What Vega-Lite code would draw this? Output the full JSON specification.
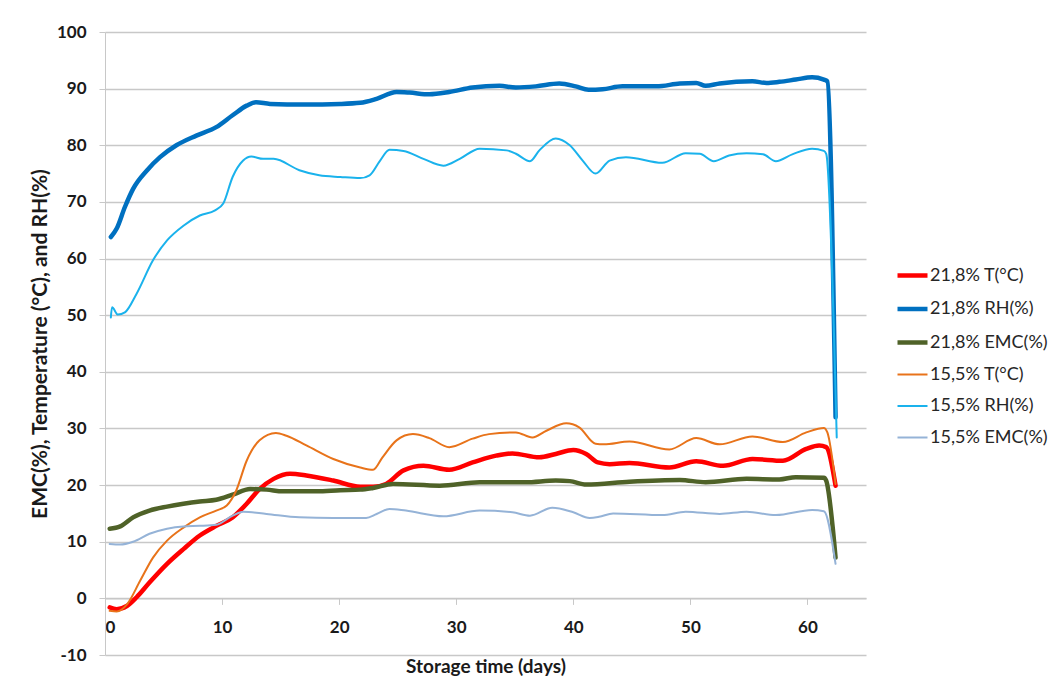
{
  "$schema": "https://vega.github.io/schema/vega-lite/v6.json",
  "width": 761,
  "height": 623,
  "autosize": "none",
  "padding": {"left": 105, "top": 32, "right": 186, "bottom": 38},
  "background": "white",
  "config": {
    "view": {"stroke": null},
    "font": "Lato",
    "axis": {"labelFont": "Lato", "titleFont": "Lato"}
  },
  "datasets": {
    "pts": [
      {"s":"21,8% T(°C)","d":0.4,"v":-1.6},{"s":"21,8% T(°C)","d":1.0,"v":-1.9},{"s":"21,8% T(°C)","d":1.9,"v":-1.3},{"s":"21,8% T(°C)","d":2.7,"v":0.2},{"s":"21,8% T(°C)","d":3.8,"v":2.8},{"s":"21,8% T(°C)","d":5.3,"v":6.1},{"s":"21,8% T(°C)","d":6.7,"v":8.7},{"s":"21,8% T(°C)","d":8.1,"v":11.1},{"s":"21,8% T(°C)","d":9.5,"v":12.8},{"s":"21,8% T(°C)","d":10.9,"v":14.3},{"s":"21,8% T(°C)","d":12.1,"v":16.7},{"s":"21,8% T(°C)","d":13.2,"v":19.3},{"s":"21,8% T(°C)","d":14.4,"v":21.1},{"s":"21,8% T(°C)","d":15.8,"v":22.0},{"s":"21,8% T(°C)","d":17.2,"v":21.7},{"s":"21,8% T(°C)","d":19.5,"v":20.8},{"s":"21,8% T(°C)","d":21.8,"v":19.7},{"s":"21,8% T(°C)","d":22.9,"v":19.7},{"s":"21,8% T(°C)","d":24.0,"v":20.2},{"s":"21,8% T(°C)","d":25.5,"v":22.6},{"s":"21,8% T(°C)","d":27.2,"v":23.4},{"s":"21,8% T(°C)","d":29.4,"v":22.7},{"s":"21,8% T(°C)","d":31.4,"v":24.0},{"s":"21,8% T(°C)","d":33.4,"v":25.2},{"s":"21,8% T(°C)","d":34.8,"v":25.6},{"s":"21,8% T(°C)","d":37.1,"v":24.9},{"s":"21,8% T(°C)","d":38.5,"v":25.5},{"s":"21,8% T(°C)","d":40.0,"v":26.2},{"s":"21,8% T(°C)","d":41.1,"v":25.5},{"s":"21,8% T(°C)","d":42.1,"v":24.0},{"s":"21,8% T(°C)","d":43.1,"v":23.7},{"s":"21,8% T(°C)","d":44.8,"v":23.9},{"s":"21,8% T(°C)","d":48.2,"v":23.1},{"s":"21,8% T(°C)","d":50.5,"v":24.2},{"s":"21,8% T(°C)","d":52.8,"v":23.4},{"s":"21,8% T(°C)","d":55.3,"v":24.6},{"s":"21,8% T(°C)","d":57.9,"v":24.3},{"s":"21,8% T(°C)","d":59.9,"v":26.4},{"s":"21,8% T(°C)","d":61.0,"v":27.0},{"s":"21,8% T(°C)","d":61.6,"v":26.7},{"s":"21,8% T(°C)","d":62.4,"v":19.9},

      {"s":"21,8% RH(%)","d":0.5,"v":63.8},{"s":"21,8% RH(%)","d":1.0,"v":65.3},{"s":"21,8% RH(%)","d":1.7,"v":69.1},{"s":"21,8% RH(%)","d":2.4,"v":72.3},{"s":"21,8% RH(%)","d":3.6,"v":75.6},{"s":"21,8% RH(%)","d":4.7,"v":77.9},{"s":"21,8% RH(%)","d":6.1,"v":80.0},{"s":"21,8% RH(%)","d":7.8,"v":81.7},{"s":"21,8% RH(%)","d":9.5,"v":83.2},{"s":"21,8% RH(%)","d":10.9,"v":85.3},{"s":"21,8% RH(%)","d":12.1,"v":87.0},{"s":"21,8% RH(%)","d":12.9,"v":87.6},{"s":"21,8% RH(%)","d":14.1,"v":87.3},{"s":"21,8% RH(%)","d":17.0,"v":87.2},{"s":"21,8% RH(%)","d":20.1,"v":87.3},{"s":"21,8% RH(%)","d":21.8,"v":87.5},{"s":"21,8% RH(%)","d":23.2,"v":88.2},{"s":"21,8% RH(%)","d":24.9,"v":89.4},{"s":"21,8% RH(%)","d":26.0,"v":89.3},{"s":"21,8% RH(%)","d":27.7,"v":89.0},{"s":"21,8% RH(%)","d":29.4,"v":89.4},{"s":"21,8% RH(%)","d":31.4,"v":90.2},{"s":"21,8% RH(%)","d":33.7,"v":90.5},{"s":"21,8% RH(%)","d":35.1,"v":90.2},{"s":"21,8% RH(%)","d":36.8,"v":90.4},{"s":"21,8% RH(%)","d":38.8,"v":90.9},{"s":"21,8% RH(%)","d":40.2,"v":90.4},{"s":"21,8% RH(%)","d":41.3,"v":89.8},{"s":"21,8% RH(%)","d":42.5,"v":89.9},{"s":"21,8% RH(%)","d":44.2,"v":90.4},{"s":"21,8% RH(%)","d":47.1,"v":90.4},{"s":"21,8% RH(%)","d":49.1,"v":90.9},{"s":"21,8% RH(%)","d":50.5,"v":91.0},{"s":"21,8% RH(%)","d":51.3,"v":90.5},{"s":"21,8% RH(%)","d":52.5,"v":90.9},{"s":"21,8% RH(%)","d":55.3,"v":91.3},{"s":"21,8% RH(%)","d":56.5,"v":91.0},{"s":"21,8% RH(%)","d":57.6,"v":91.2},{"s":"21,8% RH(%)","d":59.0,"v":91.6},{"s":"21,8% RH(%)","d":60.4,"v":92.0},{"s":"21,8% RH(%)","d":61.4,"v":91.6},{"s":"21,8% RH(%)","d":61.7,"v":91.3},{"s":"21,8% RH(%)","d":62.4,"v":32.0},

      {"s":"21,8% EMC(%)","d":0.4,"v":12.3},{"s":"21,8% EMC(%)","d":1.3,"v":12.7},{"s":"21,8% EMC(%)","d":2.4,"v":14.3},{"s":"21,8% EMC(%)","d":3.8,"v":15.5},{"s":"21,8% EMC(%)","d":5.3,"v":16.2},{"s":"21,8% EMC(%)","d":6.7,"v":16.7},{"s":"21,8% EMC(%)","d":8.1,"v":17.1},{"s":"21,8% EMC(%)","d":9.5,"v":17.4},{"s":"21,8% EMC(%)","d":10.9,"v":18.3},{"s":"21,8% EMC(%)","d":12.4,"v":19.3},{"s":"21,8% EMC(%)","d":13.8,"v":19.2},{"s":"21,8% EMC(%)","d":15.2,"v":18.9},{"s":"21,8% EMC(%)","d":18.1,"v":18.9},{"s":"21,8% EMC(%)","d":20.1,"v":19.1},{"s":"21,8% EMC(%)","d":21.8,"v":19.2},{"s":"21,8% EMC(%)","d":22.9,"v":19.5},{"s":"21,8% EMC(%)","d":24.6,"v":20.2},{"s":"21,8% EMC(%)","d":28.6,"v":19.9},{"s":"21,8% EMC(%)","d":32.0,"v":20.5},{"s":"21,8% EMC(%)","d":35.9,"v":20.5},{"s":"21,8% EMC(%)","d":38.5,"v":20.8},{"s":"21,8% EMC(%)","d":39.7,"v":20.7},{"s":"21,8% EMC(%)","d":41.1,"v":20.1},{"s":"21,8% EMC(%)","d":44.8,"v":20.6},{"s":"21,8% EMC(%)","d":49.1,"v":20.9},{"s":"21,8% EMC(%)","d":51.3,"v":20.5},{"s":"21,8% EMC(%)","d":54.8,"v":21.1},{"s":"21,8% EMC(%)","d":57.6,"v":21.0},{"s":"21,8% EMC(%)","d":59.0,"v":21.4},{"s":"21,8% EMC(%)","d":61.4,"v":21.3},{"s":"21,8% EMC(%)","d":61.6,"v":20.8},{"s":"21,8% EMC(%)","d":62.4,"v":7.2},

      {"s":"15,5% T(°C)","d":0.4,"v":-2.2},{"s":"15,5% T(°C)","d":1.0,"v":-2.3},{"s":"15,5% T(°C)","d":1.9,"v":-1.0},{"s":"15,5% T(°C)","d":3.0,"v":3.1},{"s":"15,5% T(°C)","d":4.1,"v":7.2},{"s":"15,5% T(°C)","d":5.3,"v":10.2},{"s":"15,5% T(°C)","d":6.7,"v":12.5},{"s":"15,5% T(°C)","d":8.1,"v":14.3},{"s":"15,5% T(°C)","d":9.5,"v":15.5},{"s":"15,5% T(°C)","d":10.4,"v":16.4},{"s":"15,5% T(°C)","d":11.2,"v":19.0},{"s":"15,5% T(°C)","d":12.1,"v":24.3},{"s":"15,5% T(°C)","d":13.2,"v":27.9},{"s":"15,5% T(°C)","d":14.6,"v":29.2},{"s":"15,5% T(°C)","d":15.5,"v":28.7},{"s":"15,5% T(°C)","d":17.2,"v":27.0},{"s":"15,5% T(°C)","d":19.5,"v":24.6},{"s":"15,5% T(°C)","d":21.8,"v":23.1},{"s":"15,5% T(°C)","d":22.9,"v":22.7},{"s":"15,5% T(°C)","d":23.7,"v":24.9},{"s":"15,5% T(°C)","d":24.9,"v":27.9},{"s":"15,5% T(°C)","d":26.3,"v":29.0},{"s":"15,5% T(°C)","d":27.7,"v":28.3},{"s":"15,5% T(°C)","d":29.4,"v":26.7},{"s":"15,5% T(°C)","d":31.4,"v":28.2},{"s":"15,5% T(°C)","d":32.8,"v":29.0},{"s":"15,5% T(°C)","d":35.1,"v":29.3},{"s":"15,5% T(°C)","d":36.5,"v":28.4},{"s":"15,5% T(°C)","d":37.7,"v":29.6},{"s":"15,5% T(°C)","d":39.4,"v":30.9},{"s":"15,5% T(°C)","d":40.5,"v":30.2},{"s":"15,5% T(°C)","d":41.9,"v":27.3},{"s":"15,5% T(°C)","d":42.6,"v":27.2},{"s":"15,5% T(°C)","d":44.8,"v":27.7},{"s":"15,5% T(°C)","d":48.2,"v":26.3},{"s":"15,5% T(°C)","d":50.5,"v":28.3},{"s":"15,5% T(°C)","d":52.5,"v":27.2},{"s":"15,5% T(°C)","d":55.3,"v":28.6},{"s":"15,5% T(°C)","d":57.9,"v":27.6},{"s":"15,5% T(°C)","d":59.9,"v":29.3},{"s":"15,5% T(°C)","d":61.4,"v":30.1},{"s":"15,5% T(°C)","d":61.7,"v":29.3},{"s":"15,5% T(°C)","d":62.4,"v":20.2},

      {"s":"15,5% RH(%)","d":0.5,"v":49.6},{"s":"15,5% RH(%)","d":0.6,"v":51.4},{"s":"15,5% RH(%)","d":1.1,"v":50.1},{"s":"15,5% RH(%)","d":1.7,"v":50.5},{"s":"15,5% RH(%)","d":2.7,"v":53.8},{"s":"15,5% RH(%)","d":4.1,"v":59.7},{"s":"15,5% RH(%)","d":5.3,"v":63.2},{"s":"15,5% RH(%)","d":6.7,"v":65.8},{"s":"15,5% RH(%)","d":8.1,"v":67.6},{"s":"15,5% RH(%)","d":9.4,"v":68.5},{"s":"15,5% RH(%)","d":10.1,"v":69.7},{"s":"15,5% RH(%)","d":10.9,"v":74.4},{"s":"15,5% RH(%)","d":11.8,"v":77.3},{"s":"15,5% RH(%)","d":12.5,"v":78.0},{"s":"15,5% RH(%)","d":13.5,"v":77.6},{"s":"15,5% RH(%)","d":14.4,"v":77.6},{"s":"15,5% RH(%)","d":16.6,"v":75.6},{"s":"15,5% RH(%)","d":18.3,"v":74.7},{"s":"15,5% RH(%)","d":20.1,"v":74.4},{"s":"15,5% RH(%)","d":21.8,"v":74.2},{"s":"15,5% RH(%)","d":22.6,"v":74.7},{"s":"15,5% RH(%)","d":23.5,"v":77.3},{"s":"15,5% RH(%)","d":24.3,"v":79.2},{"s":"15,5% RH(%)","d":25.5,"v":79.0},{"s":"15,5% RH(%)","d":27.2,"v":77.6},{"s":"15,5% RH(%)","d":28.9,"v":76.4},{"s":"15,5% RH(%)","d":30.3,"v":77.6},{"s":"15,5% RH(%)","d":32.0,"v":79.4},{"s":"15,5% RH(%)","d":34.3,"v":79.1},{"s":"15,5% RH(%)","d":35.1,"v":78.5},{"s":"15,5% RH(%)","d":36.3,"v":77.2},{"s":"15,5% RH(%)","d":37.1,"v":79.1},{"s":"15,5% RH(%)","d":38.5,"v":81.2},{"s":"15,5% RH(%)","d":39.7,"v":80.0},{"s":"15,5% RH(%)","d":40.8,"v":77.3},{"s":"15,5% RH(%)","d":41.9,"v":75.0},{"s":"15,5% RH(%)","d":43.1,"v":77.3},{"s":"15,5% RH(%)","d":44.5,"v":77.9},{"s":"15,5% RH(%)","d":47.6,"v":76.9},{"s":"15,5% RH(%)","d":49.6,"v":78.6},{"s":"15,5% RH(%)","d":50.8,"v":78.5},{"s":"15,5% RH(%)","d":52.0,"v":77.2},{"s":"15,5% RH(%)","d":53.3,"v":78.2},{"s":"15,5% RH(%)","d":54.8,"v":78.6},{"s":"15,5% RH(%)","d":56.2,"v":78.4},{"s":"15,5% RH(%)","d":57.3,"v":77.2},{"s":"15,5% RH(%)","d":58.7,"v":78.4},{"s":"15,5% RH(%)","d":60.4,"v":79.4},{"s":"15,5% RH(%)","d":61.4,"v":79.0},{"s":"15,5% RH(%)","d":61.6,"v":78.5},{"s":"15,5% RH(%)","d":62.5,"v":28.4},

      {"s":"15,5% EMC(%)","d":0.4,"v":9.6},{"s":"15,5% EMC(%)","d":1.3,"v":9.5},{"s":"15,5% EMC(%)","d":2.4,"v":10.0},{"s":"15,5% EMC(%)","d":3.8,"v":11.4},{"s":"15,5% EMC(%)","d":5.3,"v":12.3},{"s":"15,5% EMC(%)","d":6.7,"v":12.7},{"s":"15,5% EMC(%)","d":8.1,"v":12.8},{"s":"15,5% EMC(%)","d":9.5,"v":13.0},{"s":"15,5% EMC(%)","d":10.9,"v":14.6},{"s":"15,5% EMC(%)","d":11.8,"v":15.3},{"s":"15,5% EMC(%)","d":13.8,"v":14.9},{"s":"15,5% EMC(%)","d":16.6,"v":14.3},{"s":"15,5% EMC(%)","d":19.5,"v":14.2},{"s":"15,5% EMC(%)","d":22.3,"v":14.2},{"s":"15,5% EMC(%)","d":23.2,"v":14.9},{"s":"15,5% EMC(%)","d":24.3,"v":15.8},{"s":"15,5% EMC(%)","d":25.7,"v":15.5},{"s":"15,5% EMC(%)","d":28.9,"v":14.5},{"s":"15,5% EMC(%)","d":32.0,"v":15.5},{"s":"15,5% EMC(%)","d":34.8,"v":15.2},{"s":"15,5% EMC(%)","d":36.3,"v":14.6},{"s":"15,5% EMC(%)","d":38.2,"v":16.0},{"s":"15,5% EMC(%)","d":40.0,"v":15.2},{"s":"15,5% EMC(%)","d":41.4,"v":14.2},{"s":"15,5% EMC(%)","d":42.2,"v":14.4},{"s":"15,5% EMC(%)","d":43.4,"v":15.0},{"s":"15,5% EMC(%)","d":47.6,"v":14.7},{"s":"15,5% EMC(%)","d":49.6,"v":15.3},{"s":"15,5% EMC(%)","d":52.5,"v":14.9},{"s":"15,5% EMC(%)","d":54.8,"v":15.3},{"s":"15,5% EMC(%)","d":57.3,"v":14.7},{"s":"15,5% EMC(%)","d":60.4,"v":15.6},{"s":"15,5% EMC(%)","d":61.4,"v":15.4},{"s":"15,5% EMC(%)","d":62.4,"v":6.1}
    ]
  },
  "data": {"name": "pts"},
  "mark": {"type": "line", "interpolate": "monotone", "strokeCap": "round", "strokeJoin": "round"},
  "encoding": {
    "x": {
      "field": "d", "type": "quantitative",
      "scale": {"domain": [0, 65], "nice": false},
      "axis": {
        "title": "Storage time (days)",
        "values": [0, 10, 20, 30, 40, 50, 60],
        "offset": -56.6,
        "grid": false,
        "domainColor": "#C8C8C8",
        "tickColor": "#C8C8C8",
        "tickSize": 6,
        "labelPadding": 15,
        "labelFont": "Lato", "labelFontSize": 17, "labelFontWeight": "bold", "labelColor": "#1a1a1a",
        "titleFont": "Lato", "titleFontSize": 19, "titleFontWeight": "bold", "titleColor": "#1a1a1a",
        "titlePadding": 22
      }
    },
    "y": {
      "field": "v", "type": "quantitative",
      "scale": {"domain": [-10, 100], "nice": false, "zero": false},
      "axis": {
        "title": "EMC(%), Temperature (°C), and RH(%)",
        "values": [-10, 0, 10, 20, 30, 40, 50, 60, 70, 80, 90, 100],
        "labelExpr": "replace(datum.label, '−', '-')",
        "grid": true,
        "gridColor": "#C8C8C8",
        "gridWidth": 1.3,
        "domainColor": "#C8C8C8",
        "tickColor": "#C8C8C8",
        "tickSize": 6,
        "labelPadding": 13,
        "labelFont": "Lato", "labelFontSize": 17, "labelFontWeight": "bold", "labelColor": "#1a1a1a",
        "titleFont": "Lato", "titleFontSize": 21, "titleFontWeight": "bold", "titleColor": "#1a1a1a",
        "titlePadding": 6
      }
    },
    "color": {
      "field": "s", "type": "nominal",
      "scale": {
        "domain": ["21,8% T(°C)", "21,8% RH(%)", "21,8% EMC(%)", "15,5% T(°C)", "15,5% RH(%)", "15,5% EMC(%)"],
        "range": ["#FF0000", "#0070C0", "#4F6228", "#E8731A", "#1AB2EC", "#95B3D7"]
      },
      "legend": {
        "title": null,
        "orient": "none",
        "legendX": 790,
        "legendY": 226,
        "padding": 0,
        "symbolType": "stroke",
        "symbolSize": 900,
        "rowPadding": 6.5,
        "labelOffset": 0,
        "labelFont": "Lato", "labelFontSize": 18, "labelColor": "#262626",
        "labelLimit": 200
      }
    },
    "strokeWidth": {
      "field": "s", "type": "nominal",
      "scale": {
        "type": "ordinal",
        "domain": ["21,8% T(°C)", "21,8% RH(%)", "21,8% EMC(%)", "15,5% T(°C)", "15,5% RH(%)", "15,5% EMC(%)"],
        "range": [4.5, 4.5, 4.5, 2, 2, 2]
      },
      "legend": {"title": null}
    }
  }
}
